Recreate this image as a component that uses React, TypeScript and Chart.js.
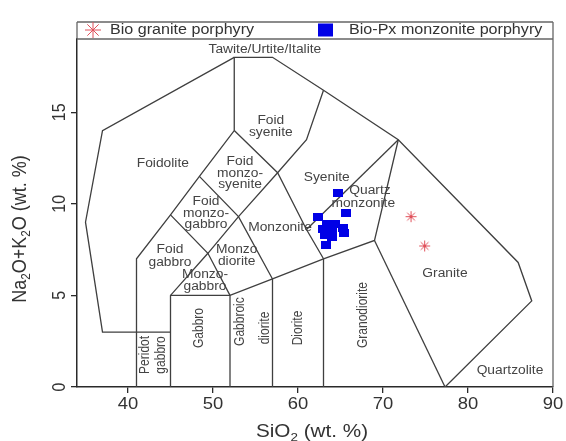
import React, { useEffect, useRef } from 'react';
import { Chart, registerables } from 'chart.js';

Chart.register(...registerables);

// ---------- data ----------
const X_TICKS = [40, 50, 60, 70, 80, 90];
const Y_TICKS = [0, 5, 10, 15];
const X_MIN = 34;
const X_MAX = 90;
const Y_MIN = 0;
const Y_MAX = 19;

const SERIES_NAMES = ['Bio granite porphyry', 'Bio-Px monzonite porphyry'];

// Bio granite porphyry (SiO2, Na2O+K2O)
const GRANITE_SIO2 = [73.3, 74.9];
const GRANITE_ALK = [9.3, 7.7];

// Bio-Px monzonite porphyry
const MONZ_SIO2 = [64.7, 65.6, 62.4, 63.4, 64.3, 65.3, 62.9, 64.0, 63.2, 64.0, 65.4, 63.3];
const MONZ_ALK = [10.6, 9.5, 9.3, 8.9, 8.9, 8.7, 8.6, 8.6, 8.3, 8.2, 8.4, 7.75];

// TAS (Middlemost 1994, plutonic) field boundaries, [SiO2, Na2O+K2O]
const BOUNDARIES: number[][][] = [
  [[52.5, 18], [37, 14], [35, 9], [37, 3], [45, 3]],
  [[41, 0], [41, 7], [45, 9.4], [48.4, 11.5], [52.5, 14], [52.5, 18], [57, 18], [63, 16.2], [71.8, 13.5], [85.9, 6.8], [87.5, 4.7], [77.3, 0]],
  [[45, 0], [45, 5], [49.4, 7.3], [53, 9.3], [57.6, 11.7], [61, 13.5], [63, 16.2]],
  [[45, 9.4], [49.4, 7.3], [52, 5]],
  [[48.4, 11.5], [53, 9.3], [57, 5.9]],
  [[52.5, 14], [57.6, 11.7], [61, 8.6], [63, 7]],
  [[45, 5], [52, 5], [57, 5.9], [63, 7], [69, 8], [71.8, 13.5]],
  [[52, 0], [52, 5]],
  [[57, 0], [57, 5.9]],
  [[63, 0], [63, 7]],
  [[69, 8], [77.3, 0]],
  [[61, 8.6], [71.8, 13.5]],
];

// field names (one entry per text line), anchored in data units
const FIELD_LABELS: [string, number, number][] = [
  ['Tawite/Urtite/Italite', 56.1, 18.4],
  ['Foid', 56.8, 14.52],
  ['syenite', 56.8, 13.87],
  ['Foidolite', 44.1, 12.18],
  ['Foid', 53.18, 12.3],
  ['monzo-', 53.18, 11.67],
  ['syenite', 53.18, 11.07],
  ['Foid', 49.18, 10.12],
  ['monzo-', 49.18, 9.48],
  ['gabbro', 49.18, 8.84],
  ['Monzonite', 57.88, 8.68],
  ['Foid', 44.94, 7.52],
  ['gabbro', 44.94, 6.81],
  ['Monzo', 52.79, 7.48],
  ['diorite', 52.79, 6.82],
  ['Monzo-', 49.06, 6.15],
  ['gabbro', 49.06, 5.48],
  ['Syenite', 63.38, 11.45],
  ['Quartz', 68.47, 10.7],
  ['monzonite', 67.68, 10.03],
  ['Granite', 77.29, 6.21],
  ['Quartzolite', 84.94, 0.87],
];

const VERTICAL_FIELD_LABELS: [string, number, number][] = [
  ['Peridot', 42.0, 1.75],
  ['gabbro', 43.96, 1.75],
  ['Gabbro', 48.39, 3.22],
  ['Gabbroic', 53.18, 3.57],
  ['diorite', 56.12, 3.22],
  ['Diorite', 60.04, 3.22],
  ['Granodiorite', 67.65, 3.93],
];

// ---------- helpers ----------
const FONT = '"Liberation Sans", Arial, Helvetica, sans-serif';
const STRETCH = 1.15;

type Part = { t: string; sub?: boolean };

function drawRich(
  ctx: CanvasRenderingContext2D,
  parts: Part[],
  cx: number,
  cy: number,
  size: number,
  rot: number,
  color: string,
  align: 'center' | 'left' = 'center'
) {
  ctx.save();
  ctx.translate(cx, cy);
  ctx.scale(STRETCH, 1);
  ctx.rotate(rot);
  ctx.fillStyle = color;
  ctx.textBaseline = 'middle';
  ctx.textAlign = 'left';
  const subSize = size * 0.65;
  let total = 0;
  const widths: number[] = [];
  for (const p of parts) {
    ctx.font = `${p.sub ? subSize : size}px ${FONT}`;
    const w = ctx.measureText(p.t).width;
    widths.push(w);
    total += w;
  }
  let x = align === 'center' ? -total / 2 : 0;
  parts.forEach((p, i) => {
    ctx.font = `${p.sub ? subSize : size}px ${FONT}`;
    ctx.fillText(p.t, x, p.sub ? size * 0.32 : 0);
    x += widths[i];
  });
  ctx.restore();
}

function drawStar(ctx: CanvasRenderingContext2D, x: number, y: number, r: number, color: string) {
  ctx.save();
  ctx.strokeStyle = color;
  ctx.lineWidth = 1;
  ctx.beginPath();
  for (let k = 0; k < 4; k++) {
    const a = (k * Math.PI) / 4;
    ctx.moveTo(x - Math.cos(a) * r, y - Math.sin(a) * r);
    ctx.lineTo(x + Math.cos(a) * r, y + Math.sin(a) * r);
  }
  ctx.stroke();
  ctx.restore();
}

const RED = '#e0505a';
const BLUE = '#0000e6';
const LINE = '#3f3f3f';
const TEXT = '#444444';
const AXIS = '#2a2a2a';

export default function App() {
  const ref = useRef<HTMLCanvasElement | null>(null);

  useEffect(() => {
    const canvas = ref.current;
    if (!canvas) return;

    const sq = document.createElement('canvas');
    sq.width = 10;
    sq.height = 8;
    const sctx = sq.getContext('2d')!;
    sctx.fillStyle = BLUE;
    sctx.fillRect(0, 0, 10, 8);

    const starImg = document.createElement('canvas');
    starImg.width = 13;
    starImg.height = 13;
    drawStar(starImg.getContext('2d')!, 6.5, 6.5, 5.5, RED);

    const overlay = {
      id: 'overlay',
      beforeDatasetsDraw(chart: any) {
        const ctx = chart.ctx as CanvasRenderingContext2D;
        const xs = chart.scales.x;
        const ys = chart.scales.y;
        for (const [t, x, y] of FIELD_LABELS) {
          drawRich(ctx, [{ t }], xs.getPixelForValue(x), ys.getPixelForValue(y), 12, 0, TEXT);
        }
        for (const [t, x, y] of VERTICAL_FIELD_LABELS) {
          drawRich(ctx, [{ t }], xs.getPixelForValue(x), ys.getPixelForValue(y), 12, -Math.PI / 2, TEXT);
        }
      },
      afterDraw(chart: any) {
        const ctx = chart.ctx as CanvasRenderingContext2D;
        const a = chart.chartArea;
        const xs = chart.scales.x;
        const ys = chart.scales.y;
        // frame + legend box
        ctx.save();
        ctx.strokeStyle = '#666';
        ctx.lineWidth = 1.3;
        const legTop = a.top - 17;
        ctx.beginPath();
        ctx.moveTo(a.left, a.top);
        ctx.lineTo(a.right, a.top);
        ctx.moveTo(a.left, legTop);
        ctx.lineTo(a.right, legTop);
        ctx.moveTo(a.left, legTop);
        ctx.lineTo(a.left, a.top);
        ctx.moveTo(a.right, legTop);
        ctx.lineTo(a.right, a.bottom);
        ctx.stroke();
        ctx.restore();
        // legend
        const ly = legTop + 8;
        drawStar(ctx, a.left + 16, ly, 8, RED);
        drawRich(ctx, [{ t: SERIES_NAMES[0] }], a.left + 33, ly, 14, 0, '#333', 'left');
        ctx.fillStyle = BLUE;
        ctx.fillRect(a.left + 241, ly - 6.5, 15, 13);
        drawRich(ctx, [{ t: SERIES_NAMES[1] }], a.left + 272, ly, 14, 0, '#333', 'left');
        // tick labels
        for (const v of X_TICKS) {
          drawRich(ctx, [{ t: String(v) }], xs.getPixelForValue(v), a.bottom + 18, 16, 0, '#333');
        }
        for (const v of Y_TICKS) {
          drawRich(ctx, [{ t: String(v) }], a.left - 17, ys.getPixelForValue(v), 16, -Math.PI / 2, '#333');
        }
        // axis titles
        drawRich(
          ctx,
          [{ t: 'SiO' }, { t: '2', sub: true }, { t: ' (wt. %)' }],
          (a.left + a.right) / 2 - 3,
          a.bottom + 45,
          18,
          0,
          '#333'
        );
        drawRich(
          ctx,
          [{ t: 'Na' }, { t: '2', sub: true }, { t: 'O+K' }, { t: '2', sub: true }, { t: 'O (wt. %)' }],
          20,
          (a.top + a.bottom) / 2 + 16,
          18,
          -Math.PI / 2,
          '#333'
        );
      },
    };

    const lineSets = BOUNDARIES.map((pts) => ({
      data: pts.map(([x, y]) => ({ x, y })),
      showLine: true,
      borderColor: LINE,
      borderWidth: 1.3,
      pointRadius: 0,
      pointHoverRadius: 0,
      tension: 0,
      fill: false,
      order: 2,
    }));

    const chart = new Chart(canvas, {
      type: 'scatter',
      data: {
        datasets: [
          {
            label: SERIES_NAMES[0],
            data: GRANITE_SIO2.map((x, i) => ({ x, y: GRANITE_ALK[i] })),
            pointStyle: starImg as any,
            pointRadius: 6,
            order: 0,
          },
          {
            label: SERIES_NAMES[1],
            data: MONZ_SIO2.map((x, i) => ({ x, y: MONZ_ALK[i] })),
            pointStyle: sq as any,
            pointRadius: 5,
            order: 0,
          },
          ...lineSets,
        ] as any,
      },
      options: {
        responsive: false,
        animation: false,
        events: [],
        layout: { padding: { left: 0, top: 39, right: 13, bottom: 0 } },
        plugins: { legend: { display: false }, tooltip: { enabled: false }, title: { display: false } },
        scales: {
          x: {
            type: 'linear',
            min: X_MIN,
            max: X_MAX,
            afterBuildTicks: (s: any) => {
              s.ticks = X_TICKS.map((value) => ({ value }));
            },
            afterFit: (s: any) => {
              s.height = 54;
            },
            ticks: { display: false },
            grid: { drawOnChartArea: false, drawTicks: true, tickLength: 6, color: AXIS, lineWidth: 1.3 },
            border: { display: true, color: AXIS, width: 1.5 },
          },
          y: {
            type: 'linear',
            min: Y_MIN,
            max: Y_MAX,
            afterBuildTicks: (s: any) => {
              s.ticks = Y_TICKS.map((value) => ({ value }));
            },
            afterFit: (s: any) => {
              s.width = 77;
            },
            ticks: { display: false },
            grid: { drawOnChartArea: false, drawTicks: true, tickLength: 6, color: AXIS, lineWidth: 1.3 },
            border: { display: true, color: AXIS, width: 1.5 },
          },
        },
      },
      plugins: [overlay],
    });

    return () => chart.destroy();
  }, []);

  return (
    <div style={{ position: 'absolute', left: 0, top: 0, width: 566, height: 441, background: '#fff' }}>
      <canvas ref={ref} width={566} height={441} style={{ display: 'block' }} />
    </div>
  );
}
